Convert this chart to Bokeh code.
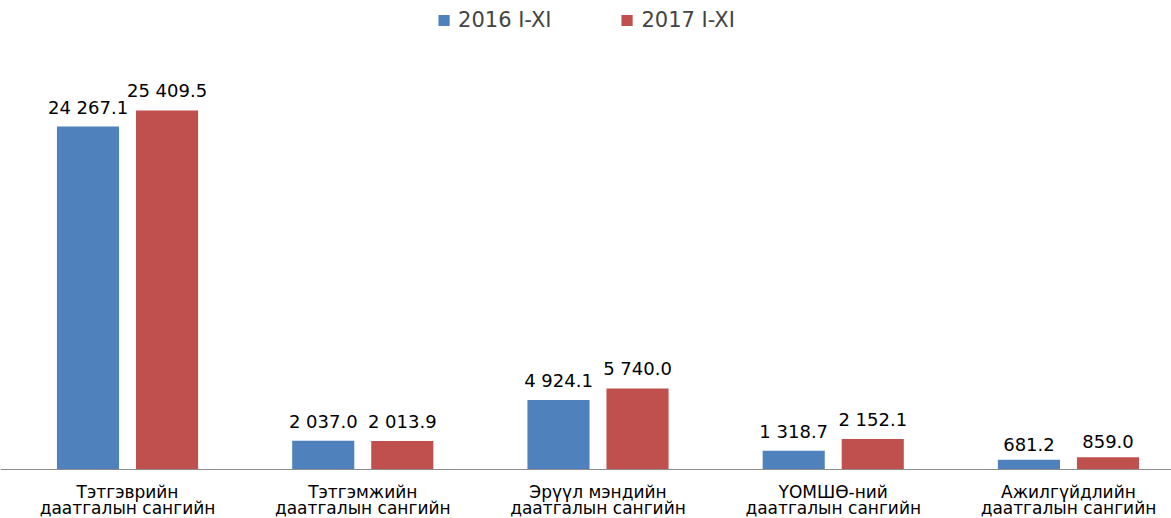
from bokeh.plotting import figure
from bokeh.models import Range1d, Span, ColumnDataSource
from bokeh.core.properties import value
from bokeh.embed import file_html
from bokeh.resources import INLINE
import numpy as np

categories = ["Тэтгэврийн\nдаатгалын сангийн",
              "Тэтгэмжийн\nдаатгалын сангийн",
              "Эрүүл мэндийн\nдаатгалын сангийн",
              "ҮОМШӨ-ний\nдаатгалын сангийн",
              "Ажилгүйдлийн\nдаатгалын сангийн"]
series_names = ["2016 I-XI", "2017 I-XI"]
values_2016 = [24267.1, 2037.0, 4924.1, 1318.7, 681.2]
values_2017 = [25409.5, 2013.9, 5740.0, 2152.1, 859.0]
colors = ["#4F81BD", "#C0504D"]

FONT = "DejaVu Sans"

def fmt(v):
    return f"{v:,.1f}".replace(",", " ")

p = figure(width=1171, height=518, output_backend="svg", toolbar_location=None,
           x_range=Range1d(-0.540, 4.438), y_range=Range1d(-3468, 33191),
           min_border=0)
p.axis.visible = False
p.grid.visible = False
p.outline_line_color = None
p.background_fill_color = "white"

xs = np.arange(len(categories))
off = 0.168
bw = 0.264
for vals, col, name, sgn in [(values_2016, colors[0], series_names[0], -1),
                             (values_2017, colors[1], series_names[1], 1)]:
    src = ColumnDataSource(dict(x=xs + sgn * off, top=vals,
                                lbl=[fmt(v) for v in vals]))
    p.vbar(x="x", top="top", width=bw, source=src, fill_color=col,
           line_color=None, legend_label=name)
    p.text(x="x", y="top", text="lbl", source=src, text_align="center",
           text_baseline="bottom", y_offset=-9, text_font=value(FONT),
           text_font_size="18px", text_color="#000000")

p.add_layout(Span(location=0, dimension="width", line_color="#8C8C8C", line_width=1))

line1 = [c.split("\n")[0] for c in categories]
line2 = [c.split("\n")[1] for c in categories]
csrc = ColumnDataSource(dict(x=xs, y=[0] * len(xs), l1=line1, l2=line2))
p.text(x="x", y="y", text="l1", source=csrc, text_align="center",
       text_baseline="top", y_offset=13, text_font=value(FONT),
       text_font_size="17px", text_color="#000000")
p.text(x="x", y="y", text="l2", source=csrc, text_align="center",
       text_baseline="top", y_offset=29, text_font=value(FONT),
       text_font_size="17px", text_color="#000000")

lg = p.legend[0]
lg.location = "top_center"
lg.orientation = "horizontal"
lg.border_line_color = None
lg.background_fill_alpha = 0
lg.label_text_font = FONT
lg.label_text_font_size = "21px"
lg.glyph_width = 14
lg.glyph_height = 14
lg.spacing = 68
lg.padding = 0
lg.margin = 8
lg.label_standoff = 8

open("out.html", "w").write(file_html(p, INLINE))
